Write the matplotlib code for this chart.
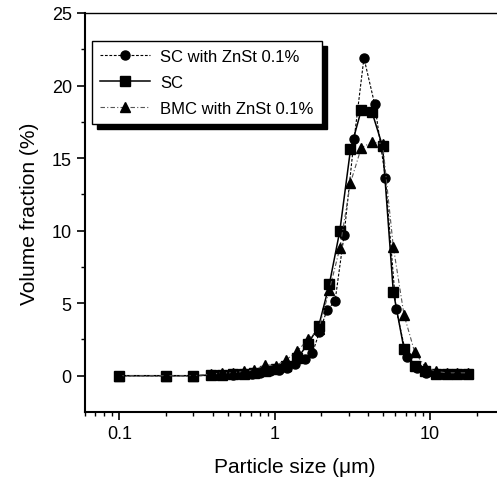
import matplotlib
matplotlib.use("Agg")
import matplotlib.pyplot as plt

plt.rcParams['font.family'] = ['Liberation Sans', 'DejaVu Sans']

# SC with ZnSt 0.1% (circles)
size_circ = [0.1, 0.2, 0.3, 0.41, 0.47, 0.54, 0.62, 0.71, 0.81, 0.93, 1.06, 1.2, 1.36,
             1.56, 1.75, 1.94, 2.17, 2.45, 2.80, 3.25, 3.76, 4.40, 5.17, 6.05, 7.08,
             8.2, 9.5, 11.0, 12.9, 15.2, 17.6]
vol_circ = [0, 0, 0, 0.02, 0.05, 0.08, 0.1, 0.15, 0.2, 0.3, 0.4, 0.55, 0.8,
            1.15, 1.55, 3.0, 4.5, 5.15, 9.7, 16.3, 21.9, 18.75, 13.65, 4.6, 1.3,
            0.5, 0.2, 0.15, 0.1, 0.1, 0.1]

# SC and BMC with ZnSt 0.1% share the same size bins
size_bins = [0.1, 0.2, 0.3, 0.39, 0.46, 0.54, 0.63, 0.74, 0.87, 1.02, 1.19, 1.40, 1.64,
             1.92, 2.25, 2.63, 3.08, 3.61, 4.23, 4.96, 5.81, 6.81, 7.97, 9.34, 10.9,
             12.8, 15.0, 17.6]
vol_sc = [0, 0, 0, 0.05, 0.08, 0.1, 0.15, 0.2, 0.3, 0.45, 0.7, 1.2, 2.2,
          3.4, 6.3, 10.0, 15.6, 18.3, 18.2, 15.8, 5.8, 1.85, 0.7, 0.3, 0.15,
          0.1, 0.1, 0.1]
vol_bmc = [0, 0, 0, 0.1, 0.2, 0.2, 0.3, 0.4, 0.75, 0.7, 1.1, 1.7, 2.5,
           3.2, 5.9, 8.8, 13.3, 15.7, 16.1, 16.0, 8.9, 4.2, 1.65, 0.6, 0.3,
           0.2, 0.2, 0.2]

labels = ["SC with ZnSt 0.1%", "SC", "BMC with ZnSt 0.1%"]
y_ticks = [0, 5, 10, 15, 20, 25]

fig = plt.figure(figsize=(4.97, 4.81), dpi=100)
ax = fig.add_axes([0.171, 0.1414, 0.843, 0.8295])

ax.plot(size_circ, vol_circ, color='black', lw=0.8, ls=(0, (2.5, 1.5)),
        marker='o', ms=6.5, label=labels[0])
ax.plot(size_bins, vol_sc, color='black', lw=1.1, ls='-',
        marker='s', ms=6.5, label=labels[1])
ax.plot(size_bins, vol_bmc, color='#555555', lw=0.8, ls=(0, (4, 2, 1, 2)),
        marker='^', ms=7, mfc='black', mec='black', label=labels[2])

ax.set_xscale('log')
ax.set_xlim(0.06, 30)
ax.set_ylim(-2.5, 25)
ax.set_yticks(y_ticks)
ax.set_yticks([2.5, 7.5, 12.5, 17.5, 22.5], minor=True)
ax.set_xticks([0.1, 1, 10])
ax.set_xticklabels(["0.1", "1", "10"])

ax.spines['right'].set_visible(False)
ax.spines['left'].set_linewidth(1.5)
ax.spines['bottom'].set_linewidth(1.5)
ax.spines['top'].set_linewidth(1.0)
ax.tick_params(which='major', direction='out', length=6, width=1.2, labelsize=13,
               top=False, right=False)
ax.tick_params(which='minor', direction='out', length=3, width=1.0,
               top=False, right=False)

ax.set_xlabel("Particle size (μm)", fontsize=15, labelpad=11)
ax.set_ylabel("Volume fraction (%)", fontsize=15, labelpad=9)

leg = ax.legend(loc='upper left', bbox_to_anchor=(0.017, 0.93), borderaxespad=0,
                fontsize=12, fancybox=False, framealpha=1, edgecolor='black',
                handlelength=3.0, handletextpad=0.6, labelspacing=0.65,
                borderpad=0.5,
                shadow={'color': 'black', 'alpha': 1, 'ox': 3.5, 'oy': -3.5})
leg.get_frame().set_linewidth(1.0)

fig.savefig("out.png", dpi=100)
